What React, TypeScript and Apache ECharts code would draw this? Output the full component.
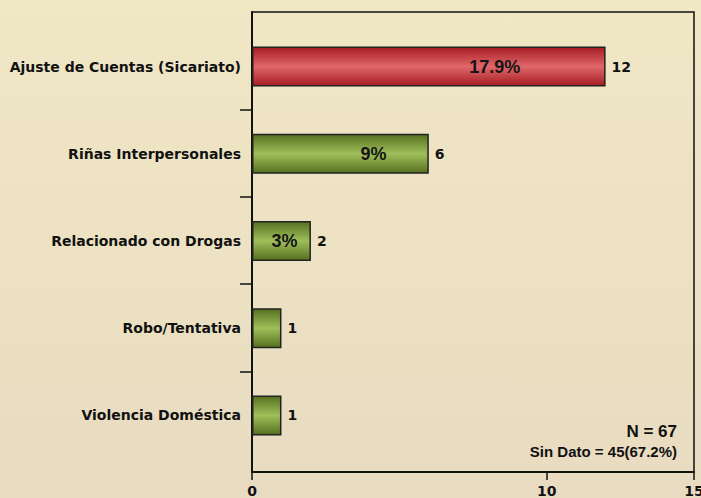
import React, { useEffect, useRef } from "react";
import * as echarts from "echarts";

const categories = [
  "Ajuste de Cuentas (Sicariato)",
  "Riñas Interpersonales",
  "Relacionado con Drogas",
  "Robo/Tentativa",
  "Violencia Doméstica",
];
const counts = [12, 6, 2, 1, 1];
const percents = ["17.9%", "9%", "3%", "", ""];
const xTicks = { min: 0, max: 15, interval: 10 };
const totalText = "N = 67";
const missingText = "Sin Dato = 45(67.2%)";

// styling only: horizontal shift of the percentage label inside each bar
const pctShift = [66, 33, 3, 0, 0];

const redGrad = new echarts.graphic.LinearGradient(0, 0, 0, 1, [
  { offset: 0, color: "#A61C22" },
  { offset: 0.5, color: "#E0676B" },
  { offset: 1, color: "#A61C22" },
]);
const greenGrad = new echarts.graphic.LinearGradient(0, 0, 0, 1, [
  { offset: 0, color: "#56701F" },
  { offset: 0.5, color: "#9FBF5A" },
  { offset: 1, color: "#56701F" },
]);

const LABEL_FONT = "'DejaVu Sans', Verdana, sans-serif";
const ARIAL = "'Liberation Sans', Arial, sans-serif";

export default function App() {
  const ref = useRef<HTMLDivElement>(null);
  useEffect(() => {
    if (!ref.current) return;
    const chart = echarts.init(ref.current, undefined, { renderer: "svg" });
    const gridLeft = 252;
    const gridWidth = 442;
    chart.setOption({
      animation: false,
      backgroundColor: "transparent",
      grid: [
        { left: gridLeft, width: gridWidth, top: 23, height: 436, outerBoundsMode: "none", containLabel: false },
        {
          left: gridLeft,
          width: gridWidth,
          top: 12,
          height: 460,
          show: true,
          borderColor: "#111",
          borderWidth: 1.5,
          backgroundColor: "transparent",
          outerBoundsMode: "none",
          containLabel: false,
        },
        { left: 240, width: 12, top: 22.5, height: 436, outerBoundsMode: "none", containLabel: false },
      ],
      xAxis: [
        { gridIndex: 0, type: "value", min: xTicks.min, max: xTicks.max, show: false },
        {
          gridIndex: 1,
          type: "value",
          min: xTicks.min,
          max: xTicks.max,
          interval: xTicks.interval,
          axisLine: { show: true, lineStyle: { color: "#111", width: 2 } },
          axisTick: { show: true, length: 8, lineStyle: { color: "#111", width: 1.5 } },
          splitLine: { show: false },
          axisLabel: {
            margin: 12,
            color: "#111",
            fontFamily: LABEL_FONT,
            fontWeight: "bold",
            fontSize: 14,
          },
        },
        { gridIndex: 2, type: "value", show: false },
      ],
      yAxis: [
        {
          gridIndex: 0,
          type: "category",
          inverse: true,
          data: categories,
          axisLine: { show: false },
          axisTick: { show: false },
          axisLabel: {
            margin: 11,
            color: "#111",
            fontFamily: LABEL_FONT,
            fontWeight: "bold",
            fontSize: 14,
          },
        },
        {
          gridIndex: 1,
          type: "value",
          axisLine: { show: true, lineStyle: { color: "#111", width: 2 } },
          axisTick: { show: false },
          axisLabel: { show: false },
          splitLine: { show: false },
        },
        {
          gridIndex: 2,
          type: "category",
          inverse: true,
          data: categories,
          axisLine: { show: false },
          axisTick: { show: false },
          axisLabel: { show: false },
          splitLine: {
            show: true,
            showMinLine: false,
            showMaxLine: false,
            lineStyle: { color: "#111", width: 1.5 },
          },
        },
      ],
      series: [
        {
          type: "bar",
          xAxisIndex: 0,
          yAxisIndex: 0,
          barWidth: 40,
          data: counts.map((v, i) => ({
            value: v,
            itemStyle: { color: i === 0 ? redGrad : greenGrad },
          })),
          itemStyle: { borderColor: "#222", borderWidth: 1.5 },
          label: {
            show: true,
            position: "right",
            distance: 6,
            color: "#111",
            fontFamily: LABEL_FONT,
            fontWeight: "bold",
            fontSize: 14,
            formatter: "{c}",
          },
        },
        {
          type: "bar",
          xAxisIndex: 0,
          yAxisIndex: 0,
          barWidth: 40,
          barGap: "-100%",
          silent: true,
          data: counts.map((v, i) => ({
            value: v,
            label: { offset: [pctShift[i], 0] },
          })),
          itemStyle: { color: "rgba(0,0,0,0)" },
          label: {
            show: true,
            position: "inside",
            color: "#151515",
            fontFamily: ARIAL,
            fontWeight: "bold",
            fontSize: 18,
            formatter: (p: any) => percents[p.dataIndex],
          },
        },
      ],
      graphic: [
        {
          type: "text",
          right: 24,
          top: 423,
          style: {
            text: totalText,
            fill: "#111",
            font: `bold 17px ${ARIAL}`,
          },
        },
        {
          type: "text",
          right: 24,
          top: 444,
          style: {
            text: missingText,
            fill: "#111",
            font: `bold 15px ${ARIAL}`,
          },
        },
      ],
    });
    return () => chart.dispose();
  }, []);
  return (
    <div
      style={{
        position: "fixed",
        left: 0,
        top: 0,
        width: 701,
        height: 498,
        background: "linear-gradient(180deg, #F0E7C5 0%, #ECE1C2 55%, #E8DBC1 100%)",
      }}
    >
      <div ref={ref} style={{ width: 701, height: 498 }} />
    </div>
  );
}
